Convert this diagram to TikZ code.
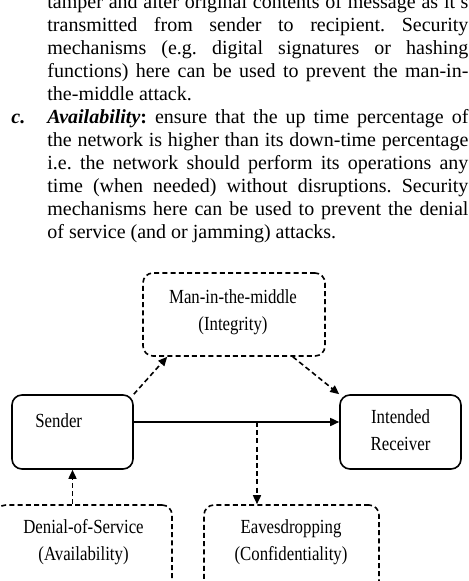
\documentclass[tikz,border=0pt]{standalone}
\usepackage{fontspec}
\setmainfont{Liberation Serif}
\newfontfamily\diagfont[FakeStretch=0.84]{Liberation Serif}
\usetikzlibrary{arrows.meta}
\setlength{\tabcolsep}{0pt}
\frenchspacing
% one fully justified line of the running text
\newcommand\jline[1]{\makebox[210.5pt][s]{#1}}
\newcommand\labelfont{\diagfont\fontsize{10pt}{13.5pt}\selectfont}
\newcommand\twoline[2]{\begin{tabular}[t]{c}#1\\#2\end{tabular}}
\begin{document}
\begin{tikzpicture}[x=0.5pt,y=-0.5pt,
  bodyline/.style={anchor=base west, inner sep=0pt, font=\fontsize{10pt}{11.5pt}\selectfont},
  solidbox/.style={draw, line width=0.8pt, rounded corners=5pt,
    minimum width=60.5pt, minimum height=37pt, inner sep=0pt},
  dashbox/.style={draw, line width=0.8pt, rounded corners=5pt,
    dash pattern=on 2.5pt off 1.6pt, inner sep=0pt},
  lbl/.style={anchor=base, inner sep=0pt, font=\labelfont},
  link/.style={line width=0.8pt, -{Triangle[length=4.5pt,width=4pt]}},
  dashlink/.style={link, dash pattern=on 2.5pt off 1.6pt}]
\useasboundingbox (0,0) rectangle (469,581);
\clip (0,0) rectangle (469,581);

% running text above the figure
\node[bodyline] (t1) at (47,9) {\jline{tamper and alter original contents of message as it's}};
\node[bodyline] (t2) at (47,32) {\jline{transmitted from sender to recipient. Security}};
\node[bodyline] (t3) at (47,55) {\jline{mechanisms (e.g. digital signatures or hashing}};
\node[bodyline] (t4) at (47,78) {\jline{functions) here can be used to prevent the man-in-}};
\node[bodyline] (t5) at (47,101) {the-middle attack.};
\node[bodyline] (citem) at (11,124) {\textbf{\textit{c.}}};
\node[bodyline] (t6) at (47,124) {\jline{\textbf{\textit{Availability}}\textbf{:} ensure that the up time percentage of}};
\node[bodyline] (t7) at (47,147) {\jline{the network is higher than its down-time percentage}};
\node[bodyline] (t8) at (47,170) {\jline{i.e. the network should perform its operations any}};
\node[bodyline] (t9) at (47,193) {\jline{time (when needed) without disruptions. Security}};
\node[bodyline] (t10) at (47,216) {\jline{mechanisms here can be used to prevent the denial}};
\node[bodyline] (t11) at (47,239) {of service (and or jamming) attacks.};

% boxes
\node[dashbox, minimum width=91pt, minimum height=41.5pt] (mitm) at (234,314.5) {};
\node[solidbox] (sender) at (72.5,432) {};
\node[solidbox] (receiver) at (400.5,432) {};
\node[dashbox, minimum width=88pt, minimum height=55pt] (dos) at (84,560) {};
\node[dashbox, minimum width=87.5pt, minimum height=55pt] (eaves) at (291.5,560) {};

% box labels
\node[lbl] (mitmtxt) at (233,304) {\twoline{Man-in-the-middle}{(Integrity)}};
\node[lbl, anchor=base west] (sendertxt) at (35,427) {Sender};
\node[lbl] (receivertxt) at (400.5,423) {\twoline{Intended}{Receiver}};
\node[lbl] (dostxt) at (83.5,533) {\twoline{Denial-of-Service}{(Availability)}};
\node[lbl] (eavestxt) at (291,533) {\twoline{Eavesdropping}{(Confidentiality)}};

% connectors
\coordinate (tap) at (257,422);
\draw[link] ([yshift=5pt]sender.east) -- ([yshift=5pt]receiver.west);
\draw[dashlink] (sender.north east) -- ([xshift=12.5pt]mitm.south west);
\draw[dashlink] ([xshift=-16.5pt]mitm.south east) -- (receiver.north west);
\draw[dashlink] (tap) -- (tap |- eaves.north);
\draw[dashlink] (sender.south |- dos.north) -- (sender.south);
\end{tikzpicture}
\end{document}
